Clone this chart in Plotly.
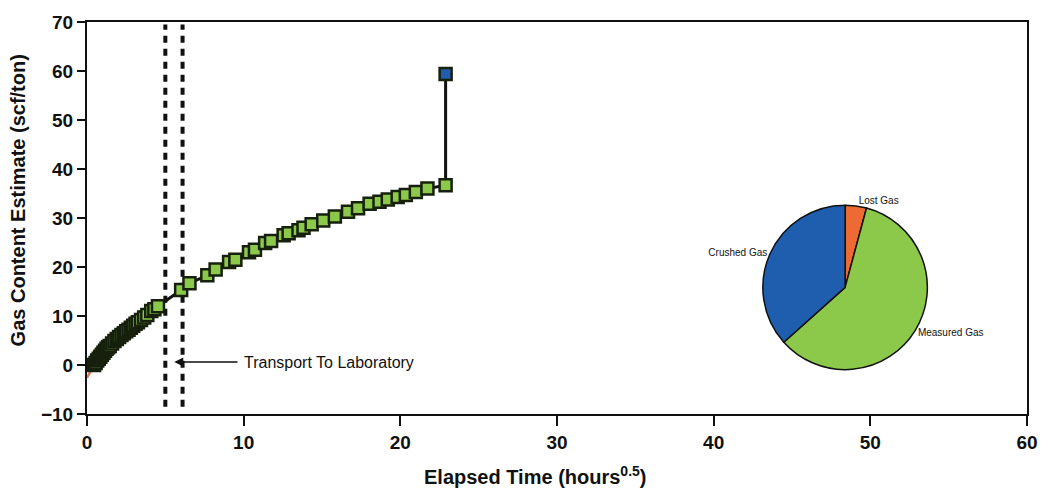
import plotly.graph_objects as go

# ---- data ----
measured_x = [0.45, 0.55, 0.65, 0.75, 0.85, 0.95, 1.05, 1.15, 1.25, 1.35, 1.45, 1.6, 1.75, 1.9,
              2.05, 2.2, 2.35, 2.5, 2.65, 2.8, 2.95, 3.1, 3.25, 3.45, 3.65, 3.85, 4.1, 4.3,
              4.53, 6.01, 6.54, 7.68, 8.21, 9.07, 9.47, 10.34, 10.72, 11.37, 11.75, 12.55,
              12.87, 13.50, 13.82, 14.34, 15.08, 15.82, 16.66, 17.30, 18.04, 18.67, 19.20,
              19.83, 20.35, 20.99, 21.73, 22.89]
measured_y = [0.0, 0.4, 0.9, 1.3, 1.7, 2.1, 2.5, 2.9, 3.3, 3.6, 3.9, 4.4, 4.9, 5.3,
              5.7, 6.1, 6.5, 6.9, 7.2, 7.6, 8.0, 8.4, 8.7, 9.2, 9.7, 10.2, 11.0, 11.4,
              12.0, 15.3, 16.7, 18.3, 19.5, 21.0, 21.5, 23.0, 23.5, 24.9, 25.3, 26.5,
              26.9, 27.5, 28.0, 28.7, 29.5, 30.3, 31.3, 32.0, 32.9, 33.3, 33.8,
              34.3, 34.7, 35.3, 36.0, 36.7]
crushed_x = 22.89
total_y = 59.4
lost_x = [0.0, 0.45]
lost_y = [-2.6, 0.0]
transport_x = [5.0, 6.1]
transport_y = [-8.5, 69.5]

pie_labels = ["Lost Gas", "Measured Gas", "Crushed Gas"]
pie_values = [2.6, 36.7, 22.7]
pie_colors = ["#ee6a35", "#8cc94a", "#1f5eae"]

x_ticks = [0, 10, 20, 30, 40, 50, 60]
y_ticks = [-10, 0, 10, 20, 30, 40, 50, 60, 70]

FONT = "Liberation Sans, Arial, sans-serif"

fig = go.Figure()

# transport window dotted lines
for tx in transport_x:
    fig.add_trace(go.Scatter(x=[tx, tx], y=transport_y, mode="lines",
                             line=dict(color="#111111", width=4, dash="7px,6px"),
                             hoverinfo="skip", showlegend=False))

# lost gas regression
fig.add_trace(go.Scatter(x=lost_x, y=lost_y, mode="lines",
                         line=dict(color="#e8704a", width=2.5), showlegend=False))

# measured + crushed
all_x = measured_x + [crushed_x]
all_y = measured_y + [total_y]
colors = ["#8cc94a"] * len(measured_x) + ["#1f5eae"]
fig.add_trace(go.Scatter(x=all_x, y=all_y, mode="lines+markers",
                         line=dict(color="#111111", width=3),
                         marker=dict(symbol="square", size=12, color=colors,
                                     line=dict(color="#16200c", width=2.5)),
                         showlegend=False))

# pie
fig.add_trace(go.Pie(labels=pie_labels, values=pie_values, sort=False,
                     direction="clockwise", rotation=0,
                     marker=dict(colors=pie_colors, line=dict(color="#111111", width=1.5)),
                     textinfo="label", textposition="outside",
                     textfont=dict(family=FONT, size=10, color="#111111"),
                     domain=dict(x=[0.719, 0.894], y=[0.110, 0.536]),
                     showlegend=False, hoverinfo="label+percent"))

fig.add_annotation(x=5.57, y=0.6, ax=9.7, ay=0.6, axref="x", ayref="y", xref="x", yref="y",
                   text="", showarrow=True, arrowhead=2, arrowsize=1.2, arrowwidth=1.5,
                   arrowcolor="#111111")
fig.add_annotation(x=9.9, y=0.6, xref="x", yref="y", text="Transport To Laboratory",
                   showarrow=False, xanchor="left", yanchor="middle",
                   font=dict(family=FONT, size=16, color="#111111"))

# axis titles
fig.add_annotation(x=0.477, y=-0.158, xref="paper", yref="paper",
                   text="Elapsed Time (hours<sup>0.5</sup>)", showarrow=False,
                   xanchor="center", yanchor="middle",
                   font=dict(family=FONT, size=20, weight="bold", color="#111111"))
fig.add_annotation(x=-0.0738, y=0.544, xref="paper", yref="paper",
                   text="Gas Content Estimate (scf/ton)", showarrow=False, textangle=-90,
                   xanchor="center", yanchor="middle",
                   font=dict(family=FONT, size=20, weight="bold", color="#111111"))

fig.update_layout(
    width=1050, height=499,
    margin=dict(l=87, r=15, t=15, b=85),
    paper_bgcolor="white", plot_bgcolor="white",
    font=dict(family=FONT, color="#111111"),
    xaxis=dict(range=[0, 60], tickvals=x_ticks, showgrid=False, zeroline=False,
               showline=True, linecolor="#111111", linewidth=2, mirror=True,
               ticks="outside", ticklen=10, tickwidth=2, tickcolor="#111111",
               tickfont=dict(family=FONT, size=19, weight="bold")),
    yaxis=dict(range=[-10, 70], tickvals=y_ticks, showgrid=False, zeroline=False,
               showline=True, linecolor="#111111", linewidth=2, mirror=True,
               ticks="outside", ticklen=8, tickwidth=2, tickcolor="#111111",
               tickfont=dict(family=FONT, size=19, weight="bold")),
)

fig.write_html("out.html", config={"displayModeBar": False},
               post_script="document.body.style.margin='0';")
